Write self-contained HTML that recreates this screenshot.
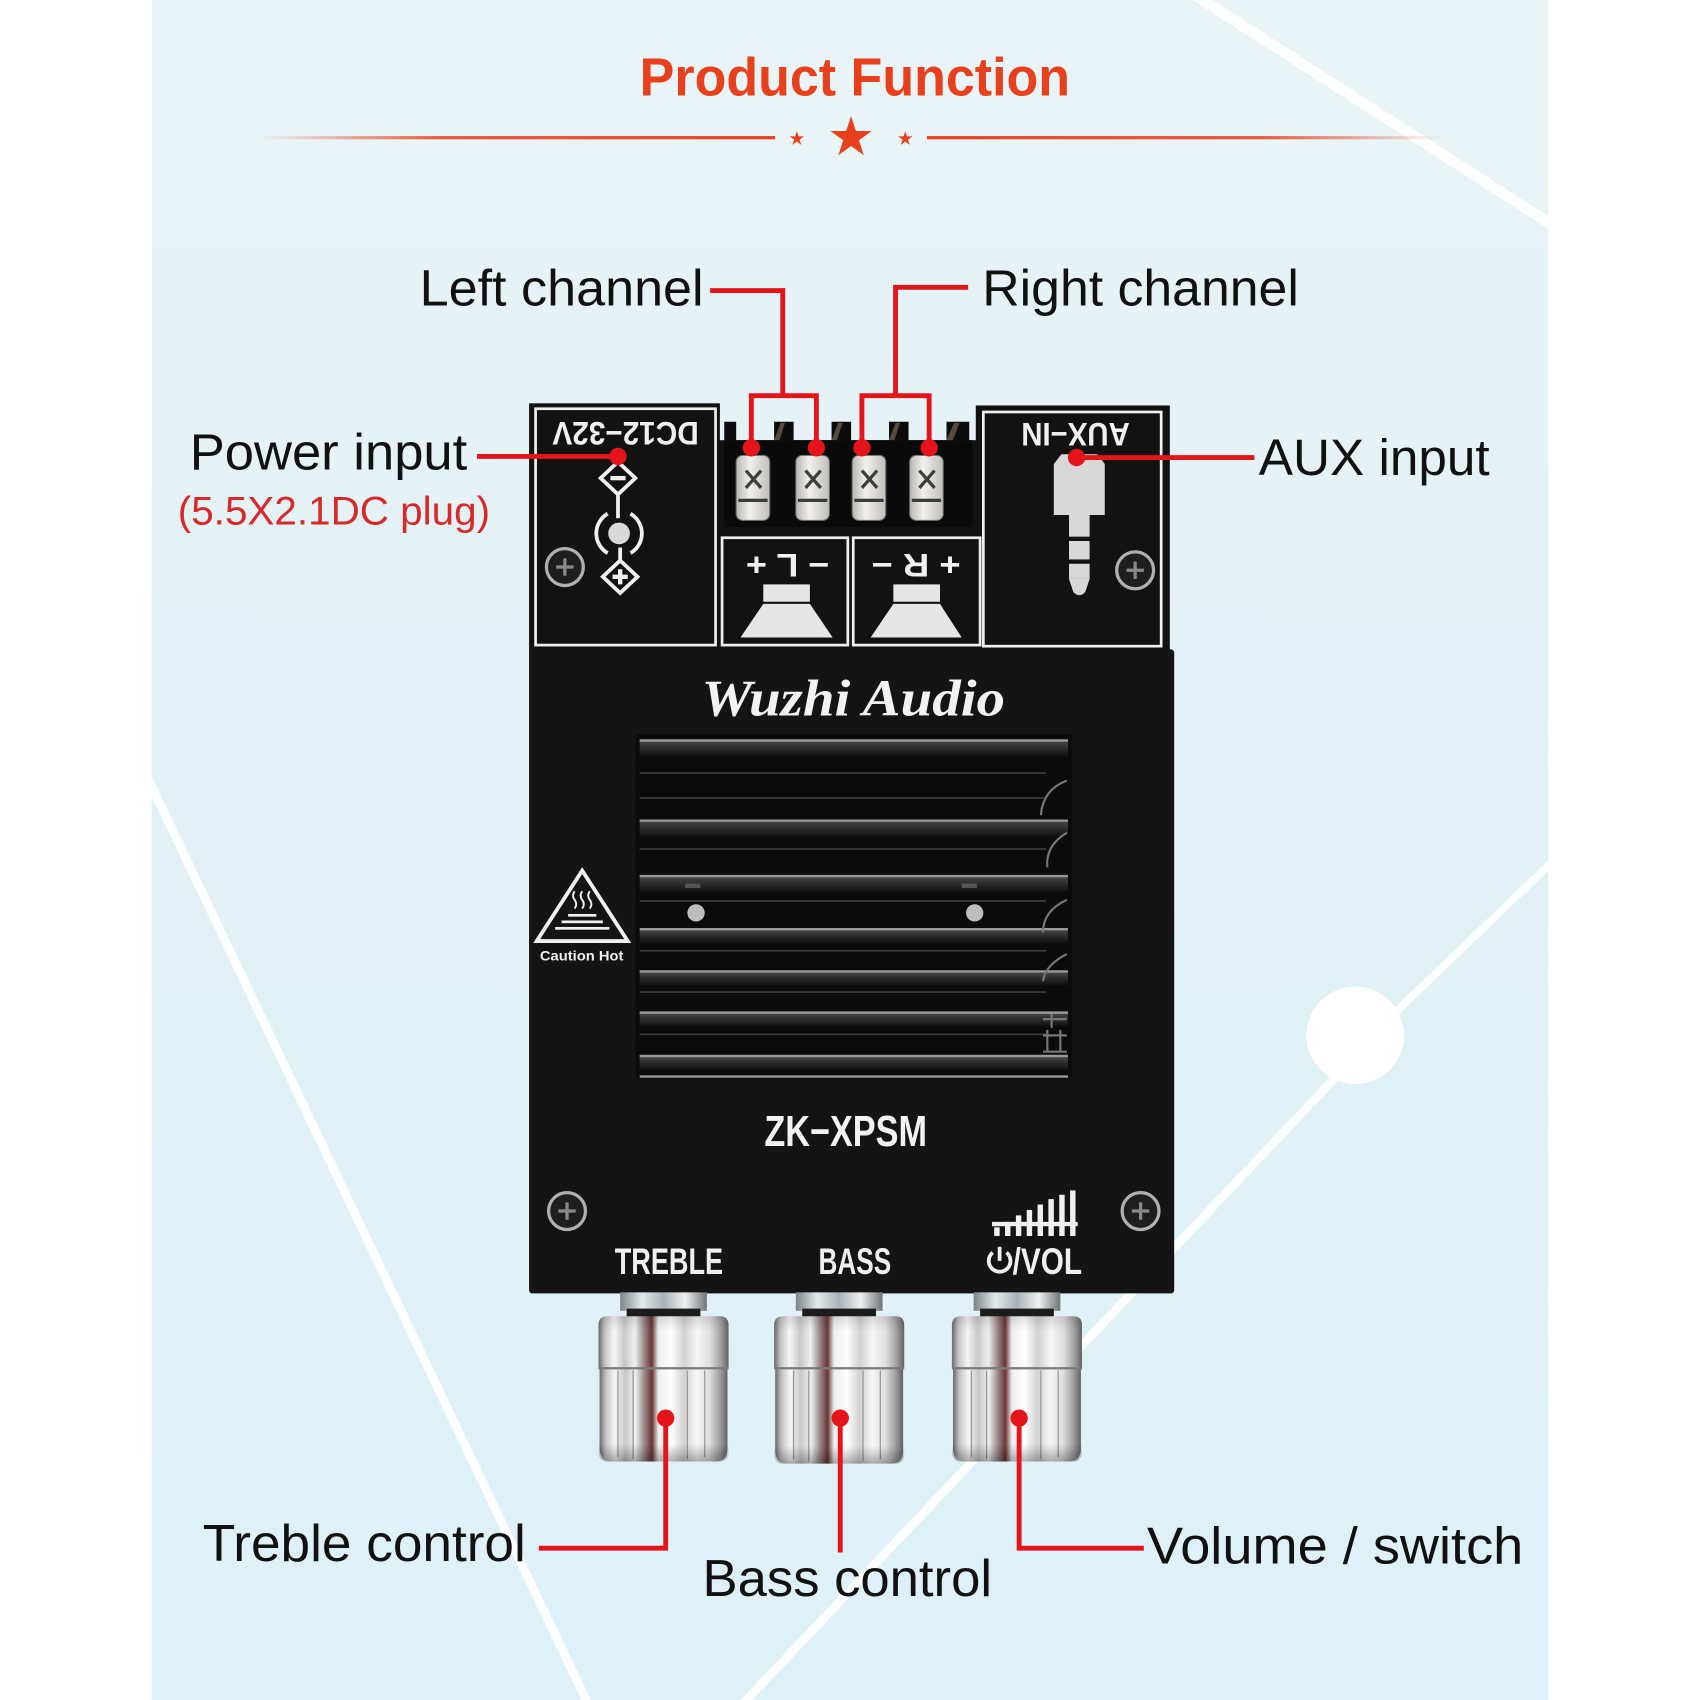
<!DOCTYPE html>
<html><head><meta charset="utf-8"><style>
html,body{margin:0;padding:0;background:#fff;}
svg{display:block;}
</style></head><body>
<svg width="1700" height="1700" viewBox="0 0 1568 1568" xmlns="http://www.w3.org/2000/svg">
<defs>
<clipPath id="panel"><rect x="140" y="0" width="1288" height="1568"/></clipPath>
<path id="star" d="M0,-1 L0.2245,-0.309 L0.951,-0.309 L0.363,0.118 L0.588,0.809 L0,0.382 L-0.588,0.809 L-0.363,0.118 L-0.951,-0.309 L-0.2245,-0.309Z"/>
<linearGradient id="bg" x1="0" y1="0" x2="0" y2="1">
<stop offset="0" stop-color="#e9f4f6"/><stop offset="0.5" stop-color="#e1f1f6"/><stop offset="1" stop-color="#def1f8"/>
</linearGradient>
<linearGradient id="lineL" x1="240" y1="0" x2="715" y2="0" gradientUnits="userSpaceOnUse">
<stop offset="0" stop-color="#e8401c" stop-opacity="0"/><stop offset="0.35" stop-color="#e8401c" stop-opacity="0.85"/><stop offset="1" stop-color="#e8401c"/>
</linearGradient>
<linearGradient id="lineR" x1="855" y1="0" x2="1332" y2="0" gradientUnits="userSpaceOnUse">
<stop offset="0" stop-color="#e8401c"/><stop offset="0.65" stop-color="#e8401c" stop-opacity="0.85"/><stop offset="1" stop-color="#e8401c" stop-opacity="0"/>
</linearGradient>
<linearGradient id="chrome" x1="0" y1="0" x2="1" y2="0">
<stop offset="0" stop-color="#6a6a6a"/><stop offset="0.05" stop-color="#c4c4c4"/><stop offset="0.12" stop-color="#f6f6f6"/><stop offset="0.2" stop-color="#c8c8c8"/><stop offset="0.28" stop-color="#f0f0f0"/><stop offset="0.35" stop-color="#9a8a8a"/><stop offset="0.41" stop-color="#6a3434"/><stop offset="0.46" stop-color="#eeeeee"/><stop offset="0.56" stop-color="#ffffff"/><stop offset="0.66" stop-color="#d2d2d2"/><stop offset="0.76" stop-color="#f6f6f6"/><stop offset="0.86" stop-color="#dedede"/><stop offset="0.94" stop-color="#a0a0a0"/><stop offset="1" stop-color="#626262"/>
</linearGradient>
<linearGradient id="shade" x1="0" y1="0" x2="0" y2="1">
<stop offset="0" stop-color="#000" stop-opacity="0.12"/><stop offset="0.1" stop-color="#000" stop-opacity="0"/><stop offset="0.88" stop-color="#000" stop-opacity="0"/><stop offset="1" stop-color="#000" stop-opacity="0.3"/>
</linearGradient>
<linearGradient id="nut" x1="0" y1="0" x2="1" y2="0">
<stop offset="0" stop-color="#7d8488"/><stop offset="0.25" stop-color="#e4eaec"/><stop offset="0.5" stop-color="#a9b2b6"/><stop offset="0.75" stop-color="#eef0f0"/><stop offset="1" stop-color="#6f7477"/>
</linearGradient>
<linearGradient id="band" x1="0" y1="0" x2="0" y2="1">
<stop offset="0" stop-color="#444"/><stop offset="1" stop-color="#0e0e0e"/>
</linearGradient>
<linearGradient id="silver" x1="0" y1="0" x2="1" y2="0">
<stop offset="0" stop-color="#b8b6b2"/><stop offset="0.4" stop-color="#f2f0ec"/><stop offset="1" stop-color="#c0beb9"/>
</linearGradient>
</defs>

<!-- background -->
<rect width="1568" height="1568" fill="#ffffff"/>
<rect x="140" y="0" width="1288" height="1568" fill="url(#bg)"/>
<g clip-path="url(#panel)" stroke="#ffffff" fill="none" opacity="0.92">
<line x1="135" y1="715" x2="544" y2="1575" stroke-width="8"/>
<line x1="1100" y1="-6" x2="1440" y2="213" stroke-width="10"/>
<line x1="1440" y1="787" x2="1270" y2="950" stroke-width="7"/>
<line x1="1240" y1="985" x2="680" y2="1577" stroke-width="8"/>
</g>
<circle cx="1250" cy="955" r="45" fill="#ffffff"/>

<!-- title -->
<text x="590" y="88" font-family="Liberation Sans, sans-serif" font-weight="bold" font-size="50" fill="#e8401c" textLength="397" lengthAdjust="spacingAndGlyphs">Product Function</text>
<rect x="240" y="125.5" width="475" height="3" fill="url(#lineL)"/>
<rect x="855" y="125.5" width="477" height="3" fill="url(#lineR)"/>
<use href="#star" transform="translate(785,127) scale(20)" fill="#e8401c"/>
<use href="#star" transform="translate(735,128) scale(7)" fill="#e8401c"/>
<use href="#star" transform="translate(835,128) scale(7)" fill="#e8401c"/>

<!-- board top section -->
<rect x="488" y="372" width="176" height="230" fill="#121212"/>
<rect x="900" y="374" width="179" height="228" fill="#121212"/>
<rect x="663" y="406" width="240" height="196" fill="#121212"/>
<rect x="494" y="377" width="166" height="218" fill="none" stroke="#f0f0f0" stroke-width="2.5"/>
<rect x="907" y="380" width="164" height="216" fill="none" stroke="#f0f0f0" stroke-width="2.5"/>
<rect x="666" y="496" width="116" height="99" fill="none" stroke="#f0f0f0" stroke-width="2.5"/>
<rect x="787" y="496" width="117" height="99" fill="none" stroke="#f0f0f0" stroke-width="2.5"/>

<!-- terminal block -->
<rect x="668" y="406" width="229" height="80" fill="#0a0a0a"/>
<g fill="#0c0c0c">
<rect x="668" y="389" width="11" height="20"/>
<rect x="714" y="389" width="18" height="20"/>
<rect x="767" y="389" width="18" height="20"/>
<rect x="820" y="389" width="18" height="20"/>
<rect x="873" y="389" width="21" height="20"/>
</g>
<g fill="#5a4a3c">
<polygon points="714,406 720,390 724,390 719,406"/>
<polygon points="767,406 773,390 777,390 772,406"/>
<polygon points="820,406 826,390 830,390 825,406"/>
<polygon points="873,406 880,390 885,390 879,406"/>
</g>
<g stroke="#6a6a6a" stroke-width="1">
<rect x="679" y="420" width="31" height="60" rx="6" fill="url(#silver)"/>
<rect x="734" y="420" width="31" height="60" rx="6" fill="url(#silver)"/>
<rect x="786" y="420" width="31" height="60" rx="6" fill="url(#silver)"/>
<rect x="839" y="420" width="31" height="60" rx="6" fill="url(#silver)"/>
</g>
<g stroke="#3e3e3e" stroke-width="3" fill="none">
<path d="M688,434 L702,450 M702,434 L688,450"/>
<path d="M743,434 L757,450 M757,434 L743,450"/>
<path d="M795,434 L809,450 M809,434 L795,450"/>
<path d="M848,434 L862,450 M862,434 L848,450"/>
</g>
<g fill="#3a3a3a">
<rect x="681" y="460" width="27" height="3"/><rect x="736" y="460" width="27" height="3"/>
<rect x="788" y="460" width="27" height="3"/><rect x="841" y="460" width="27" height="3"/>
</g>

<!-- L / R panels -->
<text x="726.5" y="533" transform="rotate(180 726.5 522)" text-anchor="middle" font-family="Liberation Sans, sans-serif" font-weight="bold" font-size="30" fill="#f0f0f0" textLength="77" lengthAdjust="spacingAndGlyphs">− L +</text>
<text x="845" y="533" transform="rotate(180 845 522)" text-anchor="middle" font-family="Liberation Sans, sans-serif" font-weight="bold" font-size="30" fill="#f0f0f0" textLength="82" lengthAdjust="spacingAndGlyphs">+ R −</text>
<g fill="#e6e6e6">
<rect x="704" y="539" width="43" height="16"/>
<polygon points="704,557 747,557 768,588 683,588"/>
<rect x="824" y="539" width="43" height="16"/>
<polygon points="824,557 867,557 887,588 803,588"/>
</g>

<!-- DC panel -->
<text x="577" y="411" transform="rotate(180 577 400)" text-anchor="middle" font-family="Liberation Sans, sans-serif" font-weight="bold" font-size="30" fill="#f0f0f0" textLength="135" lengthAdjust="spacingAndGlyphs">DC12−32V</text>
<g stroke="#f0f0f0" stroke-width="3.5" fill="none">
<polygon points="570,426 586,441 570,456 554,441"/>
<line x1="570" y1="456" x2="570" y2="478"/>
<path d="M560.5,473.8 A21,21 0 0 0 560.5,510.2"/>
<path d="M581.5,473.8 A21,21 0 0 1 581.5,510.2"/>
<line x1="572" y1="505" x2="572" y2="517"/>
<polygon points="572,517 588,532 572,547 556,532"/>
</g>
<rect x="563" y="439" width="14" height="4" fill="#f0f0f0"/>
<rect x="565" y="530" width="14" height="4" fill="#f0f0f0"/>
<rect x="570" y="525" width="4" height="14" fill="#f0f0f0"/>
<circle cx="571" cy="492" r="10" fill="#d8d8d8"/>

<!-- AUX panel -->
<text x="992" y="412" transform="rotate(180 992 401)" text-anchor="middle" font-family="Liberation Sans, sans-serif" font-weight="bold" font-size="30" fill="#f0f0f0" textLength="100" lengthAdjust="spacingAndGlyphs">AUX−IN</text>
<g fill="#d8d8d8">
<polygon points="972,428 979,419 1012,419 1019,428 1019,475 972,475"/>
<rect x="986" y="475" width="19" height="20"/>
<rect x="986" y="499" width="19" height="17"/>
<rect x="986" y="520" width="19" height="14"/>
<path d="M986,534 H1005 L1001,546 Q995.5,552 990,546 Z"/>
</g>

<!-- main body -->
<rect x="488" y="599" width="595" height="594" rx="3" fill="#141414"/>
<text x="647" y="660" font-family="Liberation Serif, serif" font-style="italic" font-weight="bold" font-size="48" fill="#f2f2f2" textLength="280" lengthAdjust="spacingAndGlyphs">Wuzhi Audio</text>

<!-- heatsink -->
<rect x="586" y="677" width="403" height="318" rx="4" fill="#0b0b0b"/>
<g fill="url(#band)">
<rect x="590" y="684" width="395" height="14"/>
<rect x="590" y="758" width="395" height="14"/>
<rect x="590" y="809" width="395" height="14"/>
<rect x="590" y="858" width="395" height="12"/>
<rect x="590" y="897" width="395" height="12"/>
<rect x="590" y="935" width="395" height="12"/>
<rect x="590" y="975" width="395" height="12"/>
</g>
<g stroke="#9a9a9a" stroke-width="2.2">
<line x1="590" y1="683" x2="985" y2="683"/>
<line x1="590" y1="757" x2="985" y2="757"/>
<line x1="590" y1="808" x2="985" y2="808"/>
<line x1="590" y1="857" x2="985" y2="857"/>
<line x1="590" y1="896" x2="985" y2="896"/>
<line x1="590" y1="934" x2="985" y2="934"/>
<line x1="590" y1="974" x2="985" y2="974"/>
<line x1="590" y1="993" x2="985" y2="993"/>
</g>
<g stroke="#3e3e3e" stroke-width="1.5">
<line x1="590" y1="713" x2="965" y2="713"/>
<line x1="590" y1="736" x2="965" y2="736"/>
<line x1="590" y1="783" x2="965" y2="783"/>
<line x1="590" y1="831" x2="965" y2="831"/>
<line x1="590" y1="877" x2="965" y2="877"/>
<line x1="590" y1="915" x2="965" y2="915"/>
<line x1="590" y1="954" x2="965" y2="954"/>
</g>
<g stroke="#777" stroke-width="2" fill="none">
<path d="M984,720 Q962,728 960,752"/>
<path d="M984,768 Q964,780 966,800"/>
<path d="M984,830 Q962,840 962,860"/>
<path d="M984,880 Q964,890 962,905"/>
<path d="M962,940 H984 M970,935 V948"/>
<path d="M962,955 H984 M966,950 V970 M978,950 V970 M962,970 H984"/>
</g>
<circle cx="642" cy="842" r="8" fill="#bdbdbd"/>
<circle cx="899" cy="842" r="8" fill="#bdbdbd"/>
<rect x="632" y="815" width="14" height="4" fill="#555"/>
<rect x="887" y="815" width="14" height="4" fill="#555"/>

<!-- caution -->
<polygon points="537,803 579,868 495,868" fill="none" stroke="#f0f0f0" stroke-width="3.5" stroke-linejoin="miter"/>
<g stroke="#f0f0f0" stroke-width="1.8" fill="none">
<path d="M530,822 q-3,4 0,8 q3,4 0,8"/>
<path d="M537,822 q-3,4 0,8 q3,4 0,8"/>
<path d="M544,822 q-3,4 0,8 q3,4 0,8"/>
</g>
<g fill="#f0f0f0">
<rect x="524" y="843" width="26" height="2.5"/>
<rect x="518" y="849" width="38" height="2.5"/>
<rect x="512" y="855" width="50" height="2.5"/>
</g>
<text x="498" y="886" font-family="Liberation Sans, sans-serif" font-weight="bold" font-size="12.5" fill="#f0f0f0" textLength="77" lengthAdjust="spacingAndGlyphs">Caution Hot</text>

<text x="705" y="1057" font-family="Liberation Sans, sans-serif" font-weight="bold" font-size="40" fill="#f2f2f2" textLength="150" lengthAdjust="spacingAndGlyphs">ZK−XPSM</text>

<!-- screws -->
<g>
<circle cx="521" cy="523" r="17" fill="#1e1e1e" stroke="#b0b0b0" stroke-width="3"/>
<circle cx="1047" cy="526" r="17" fill="#1e1e1e" stroke="#b0b0b0" stroke-width="3"/>
<circle cx="523" cy="1117" r="17" fill="#1e1e1e" stroke="#b0b0b0" stroke-width="3"/>
<circle cx="1052" cy="1117" r="17" fill="#1e1e1e" stroke="#b0b0b0" stroke-width="3"/>
</g>
<g stroke="#8a8a8a" stroke-width="3">
<path d="M513,523 H529 M521,515 V531"/>
<path d="M1039,526 H1055 M1047,518 V534"/>
<path d="M515,1117 H531 M523,1109 V1125"/>
<path d="M1044,1117 H1060 M1052,1109 V1125"/>
</g>

<!-- bottom labels on board -->
<text x="567" y="1175" font-family="Liberation Sans, sans-serif" font-weight="bold" font-size="34" fill="#f0f0f0" textLength="100" lengthAdjust="spacingAndGlyphs">TREBLE</text>
<text x="755" y="1175" font-family="Liberation Sans, sans-serif" font-weight="bold" font-size="34" fill="#f0f0f0" textLength="67" lengthAdjust="spacingAndGlyphs">BASS</text>
<text x="934" y="1175" font-family="Liberation Sans, sans-serif" font-weight="bold" font-size="34" fill="#f0f0f0" textLength="64" lengthAdjust="spacingAndGlyphs">/VOL</text>
<g stroke="#f0f0f0" stroke-width="3.5" fill="none">
<path d="M915.6,1155.3 A10,10 0 1 0 928.4,1155.3"/>
<line x1="922" y1="1150" x2="922" y2="1163"/>
</g>
<g fill="#f0f0f0">
<rect x="917" y="1132" width="5" height="8"/>
<rect x="927" y="1127" width="5" height="13"/>
<rect x="937" y="1121" width="5" height="19"/>
<rect x="947" y="1116" width="5" height="24"/>
<rect x="957" y="1111" width="5" height="29"/>
<rect x="967" y="1106" width="5" height="34"/>
<rect x="977" y="1102" width="5" height="38"/>
<rect x="987" y="1098" width="5" height="42"/>
<rect x="915" y="1127" width="79" height="4"/>
</g>

<!-- knobs -->
<g transform="translate(612,0)">
<rect x="-40" y="1192" width="80" height="17" fill="url(#nut)"/>
<rect x="-34" y="1207" width="68" height="9" fill="#1c1c1c"/>
<path d="M-60,1222 Q-60,1214 -52,1214 H52 Q60,1214 60,1222 V1262 H-60Z" fill="url(#chrome)"/>
<path d="M-59,1262 H59 V1336 Q59,1348 47,1348 H-47 Q-59,1348 -59,1336Z" fill="url(#chrome)"/>
<line x1="-60" y1="1262" x2="60" y2="1262" stroke="#7a7a7a" stroke-width="2"/>
<path d="M-42,1264 V1344 M-28,1264 V1346 M22,1264 V1346 M38,1264 V1344" stroke="#9a9a9a" stroke-width="1.2"/>
<rect x="-60" y="1214" width="120" height="134" rx="8" fill="url(#shade)"/>
</g>
<g transform="translate(774,0)">
<rect x="-40" y="1192" width="80" height="17" fill="url(#nut)"/>
<rect x="-34" y="1207" width="68" height="9" fill="#1c1c1c"/>
<path d="M-60,1222 Q-60,1214 -52,1214 H52 Q60,1214 60,1222 V1262 H-60Z" fill="url(#chrome)"/>
<path d="M-59,1262 H59 V1338 Q59,1350 47,1350 H-47 Q-59,1350 -59,1338Z" fill="url(#chrome)"/>
<line x1="-60" y1="1262" x2="60" y2="1262" stroke="#7a7a7a" stroke-width="2"/>
<path d="M-42,1264 V1346 M-28,1264 V1348 M22,1264 V1348 M38,1264 V1346" stroke="#9a9a9a" stroke-width="1.2"/>
<rect x="-60" y="1214" width="120" height="136" rx="8" fill="url(#shade)"/>
</g>
<g transform="translate(938,0)">
<rect x="-40" y="1192" width="80" height="17" fill="url(#nut)"/>
<rect x="-34" y="1207" width="68" height="9" fill="#1c1c1c"/>
<path d="M-60,1222 Q-60,1214 -52,1214 H52 Q60,1214 60,1222 V1262 H-60Z" fill="url(#chrome)"/>
<path d="M-59,1262 H59 V1336 Q59,1348 47,1348 H-47 Q-59,1348 -59,1336Z" fill="url(#chrome)"/>
<line x1="-60" y1="1262" x2="60" y2="1262" stroke="#7a7a7a" stroke-width="2"/>
<path d="M-42,1264 V1344 M-28,1264 V1346 M22,1264 V1346 M38,1264 V1344" stroke="#9a9a9a" stroke-width="1.2"/>
<rect x="-60" y="1214" width="120" height="134" rx="8" fill="url(#shade)"/>
</g>

<!-- leaders -->
<g stroke="#e3151a" stroke-width="4.5" fill="none" stroke-linejoin="miter">
<path d="M655,268 H722 V365"/>
<path d="M693,413 V365 H753 V413"/>
<path d="M893,265 H826 V365"/>
<path d="M795,413 V365 H857 V413"/>
<path d="M440,421 H570"/>
<path d="M993,422 H1157"/>
<path d="M614,1308 V1428 H497"/>
<path d="M775,1308 V1432"/>
<path d="M940,1308 V1428 H1055"/>
</g>
<g fill="#e3151a">
<circle cx="693" cy="413" r="8"/><circle cx="753" cy="413" r="8"/>
<circle cx="795" cy="413" r="8"/><circle cx="857" cy="413" r="8"/>
<circle cx="570" cy="421" r="8"/><circle cx="993" cy="422" r="8"/>
<circle cx="614" cy="1308" r="8"/><circle cx="775" cy="1308" r="8"/><circle cx="940" cy="1308" r="8"/>
</g>

<!-- labels -->
<g font-family="Liberation Sans, sans-serif" fill="#111111">
<text x="387" y="282" font-size="47" textLength="262" lengthAdjust="spacingAndGlyphs">Left channel</text>
<text x="906" y="282" font-size="47" textLength="292" lengthAdjust="spacingAndGlyphs">Right channel</text>
<text x="175" y="433" font-size="47" textLength="256" lengthAdjust="spacingAndGlyphs">Power input</text>
<text x="1161" y="438" font-size="47" textLength="213" lengthAdjust="spacingAndGlyphs">AUX input</text>
<text x="187" y="1440" font-size="48" textLength="298" lengthAdjust="spacingAndGlyphs">Treble control</text>
<text x="648" y="1472" font-size="48" textLength="267" lengthAdjust="spacingAndGlyphs">Bass control</text>
<text x="1058" y="1442" font-size="48" textLength="347" lengthAdjust="spacingAndGlyphs">Volume / switch</text>
</g>
<text x="164" y="484" font-family="Liberation Sans, sans-serif" font-size="37" fill="#d7282a" textLength="288" lengthAdjust="spacingAndGlyphs">(5.5X2.1DC plug)</text>
</svg>
</body></html>
